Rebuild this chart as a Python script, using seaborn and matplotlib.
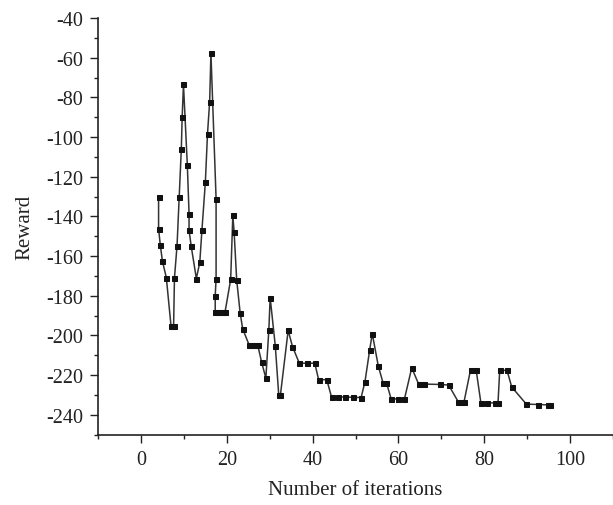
import matplotlib
matplotlib.use("Agg")
import matplotlib.pyplot as plt
from matplotlib.ticker import MultipleLocator
import seaborn as sns
import pandas as pd

iterations = [4.1, 4.1, 4.5, 5.0, 5.9, 7.0, 7.6, 7.8, 8.4, 8.9, 9.4, 9.6, 9.9, 10.8,
              11.2, 11.2, 11.7, 12.9, 13.7, 14.2, 15.0, 15.5, 16.0, 16.3, 17.5, 17.5,
              17.3, 17.3, 18.0, 18.6, 19.1, 19.6, 20.9, 21.4, 21.7, 22.3, 23.1, 23.7,
              25.2, 25.8, 26.5, 27.2, 28.1, 29.1, 29.8, 30.1, 31.3, 32.1, 32.5, 34.3,
              35.3, 36.9, 38.8, 40.5, 41.4, 43.3, 44.4, 45.9, 47.5, 49.4, 51.3, 52.2,
              53.3, 53.9, 55.3, 56.4, 57.2, 58.3, 59.9, 61.4, 63.1, 64.7, 66.0, 69.7,
              71.7, 73.9, 74.6, 75.3, 76.8, 78.1, 79.2, 80.6, 82.6, 83.2, 83.6, 85.3,
              86.4, 89.8, 92.6, 94.8, 95.3]
reward = [-130.0, -146.2, -154.5, -162.6, -170.8, -195.2, -195.2, -171.0, -154.8, -130.4,
          -106.0, -89.8, -73.5, -114.2, -138.6, -146.9, -155.0, -171.3, -163.2, -147.0,
          -122.8, -98.4, -82.3, -57.8, -131.0, -171.6, -179.9, -188.0, -188.0, -188.0,
          -188.0, -188.0, -171.8, -139.5, -147.7, -172.0, -188.5, -196.7, -204.8, -204.8,
          -204.8, -204.8, -213.4, -221.5, -197.0, -180.9, -205.3, -229.9, -229.9, -197.4,
          -205.6, -214.0, -214.0, -214.0, -222.3, -222.3, -231.0, -231.0, -231.0, -231.2,
          -231.3, -223.3, -207.2, -199.1, -215.4, -223.8, -223.8, -232.0, -232.0, -232.0,
          -216.3, -224.5, -224.5, -224.7, -225.0, -233.3, -233.3, -233.3, -217.3, -217.3,
          -233.8, -233.8, -234.1, -234.1, -217.6, -217.6, -226.0, -234.6, -234.8, -235.0,
          -235.0]

x_ticks = [0, 20, 40, 60, 80, 100]
y_ticks = [-240, -220, -200, -180, -160, -140, -120, -100, -80, -60, -40]

df = pd.DataFrame({"Number of iterations": iterations, "Reward": reward})

sns.set_style("ticks")
plt.rcParams["font.family"] = ["Liberation Serif", "DejaVu Serif"]

fig = plt.figure(figsize=(6.13, 5.06), dpi=100)
ax = fig.add_axes([0.160, 0.139, 0.840, 0.8235])

sns.lineplot(data=df, x="Number of iterations", y="Reward", sort=False, estimator=None,
             color="#333333", linewidth=1.1, marker="s", markersize=3.6,
             markerfacecolor="#111111", markeredgecolor="#111111", ax=ax)

ax.set_xlim(-10, 110)
ax.set_ylim(-250, -40)
ax.set_xticks(x_ticks)
ax.set_yticks(y_ticks)
ax.set_yticklabels([str(v) for v in y_ticks])
ax.xaxis.set_minor_locator(MultipleLocator(10))
ax.yaxis.set_minor_locator(MultipleLocator(10))
ax.tick_params(which="major", direction="out", length=6, width=1.0, labelsize=14.5,
               colors="#222222", pad=5)
ax.tick_params(which="minor", direction="out", length=3, width=1.0, colors="#222222")
sns.despine(ax=ax)
for s in ["left", "bottom"]:
    ax.spines[s].set_linewidth(1.2)
    ax.spines[s].set_color("#222222")

ax.set_xlabel("Number of iterations", fontsize=15, color="#222222", labelpad=8)
ax.set_ylabel("Reward", fontsize=15, color="#222222", labelpad=8)

fig.savefig("out.png", dpi=100)
